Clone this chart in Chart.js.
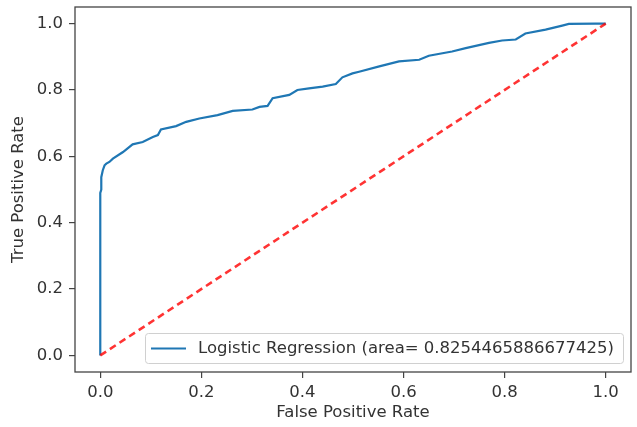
<!DOCTYPE html>
<html>
<head>
<meta charset="utf-8">
<title>ROC curve</title>
<script src="https://cdn.jsdelivr.net/npm/chart.js@4/dist/chart.umd.min.js"></script>
<style>
    html, body { margin: 0; padding: 0; background: #fff; }
    #wrap { width: 637px; height: 427px; }
</style>
</head>
<body>
<div id="wrap"><canvas id="roc" width="637" height="427"></canvas></div>
<script>
// ---- data ----
const fpr = [0, 0, 0.002, 0.002, 0.005, 0.0085, 0.012, 0.018, 0.025, 0.045,
    0.064, 0.084, 0.104, 0.114, 0.12, 0.15, 0.17, 0.196, 0.232, 0.262,
    0.301, 0.315, 0.331, 0.341, 0.374, 0.39, 0.413, 0.44, 0.466, 0.479,
    0.499, 0.512, 0.552, 0.591, 0.631, 0.65, 0.696, 0.723, 0.769, 0.795,
    0.822, 0.841, 0.881, 0.914, 0.927, 0.98, 1.0];
const tpr = [0, 0.49, 0.5, 0.537, 0.558, 0.573, 0.578, 0.583, 0.593, 0.613,
    0.636, 0.643, 0.658, 0.664, 0.681, 0.691, 0.704, 0.714, 0.724, 0.737,
    0.741, 0.749, 0.752, 0.775, 0.785, 0.8, 0.805, 0.81, 0.818, 0.838,
    0.85, 0.855, 0.871, 0.886, 0.891, 0.903, 0.916, 0.926, 0.942, 0.949,
    0.952, 0.97, 0.982, 0.994, 0.999, 1.0, 1.0];
const chanceX = [0, 1];
const chanceY = [0, 1];
const xTicks = [0, 0.2, 0.4, 0.6, 0.8, 1.0];
const yTicks = [0, 0.2, 0.4, 0.6, 0.8, 1.0];
const rocLabel = 'Logistic Regression (area= 0.8254465886677425)';

const FONT = { family: 'DejaVu Sans', size: 16.5 };
const INK = '#333';
const FRAME = '#444';

// full box round the plot, like matplotlib spines
const framePlugin = {
    id: 'frame',
    afterDatasetsDraw(chart) {
        const { ctx, chartArea: a } = chart;
        ctx.save();
        ctx.strokeStyle = FRAME;
        ctx.lineWidth = 1.3;
        ctx.strokeRect(a.left, a.top, a.right - a.left, a.bottom - a.top);
        ctx.restore();
    }
};

// legend box in the lower right corner
const boxLegend = {
    id: 'boxLegend',
    afterDraw(chart) {
        const { ctx, chartArea: a } = chart;
        const ds = chart.data.datasets[0];
        const x = 145, y = 333, w = a.right - 8 - x, h = 30;
        ctx.save();
        ctx.fillStyle = 'rgba(255,255,255,0.85)';
        ctx.strokeStyle = '#d0d0d0';
        ctx.lineWidth = 1;
        ctx.beginPath();
        ctx.roundRect(x + 0.5, y + 0.5, w, h, 3);
        ctx.fill();
        ctx.stroke();
        ctx.strokeStyle = ds.borderColor;
        ctx.lineWidth = 2;
        ctx.beginPath();
        ctx.moveTo(x + 6, y + h / 2 + 0.5);
        ctx.lineTo(x + 41, y + h / 2 + 0.5);
        ctx.stroke();
        ctx.fillStyle = INK;
        ctx.font = FONT.size + 'px "' + FONT.family + '"';
        ctx.textBaseline = 'middle';
        ctx.fillText(ds.label, x + 53, y + h / 2 + 1);
        ctx.restore();
    }
};

function axisTicks(values) {
    return function (scale) {
        scale.ticks = values.map(v => ({ value: v }));
    };
}

new Chart(document.getElementById('roc'), {
    type: 'scatter',
    data: {
        datasets: [
            {
                label: rocLabel,
                data: fpr.map((x, i) => ({ x, y: tpr[i] })),
                showLine: true,
                borderColor: '#1f77b4',
                borderWidth: 2.2,
                pointRadius: 0,
                tension: 0,
                order: 1
            },
            {
                label: 'chance',
                data: chanceX.map((x, i) => ({ x, y: chanceY[i] })),
                showLine: true,
                borderColor: 'rgba(255,0,0,0.8)',
                borderWidth: 2.6,
                borderDash: [7, 4.5],
                pointRadius: 0,
                order: 0
            }
        ]
    },
    options: {
        responsive: false,
        animation: false,
        layout: { padding: { top: 7, right: 6, left: 0, bottom: 0 } },
        plugins: {
            legend: { display: false },
            tooltip: { enabled: false }
        },
        scales: {
            x: {
                type: 'linear',
                min: -0.05,
                max: 1.05,
                afterBuildTicks: axisTicks(xTicks),
                afterFit: (s) => { s.height = 55; s.paddingLeft = 0; s.paddingRight = 0; },
                grid: { drawOnChartArea: false, tickLength: 6, color: FRAME, lineWidth: 1.2 },
                border: { display: false },
                ticks: { color: INK, font: FONT, padding: 5, maxRotation: 0, callback: v => v.toFixed(1) },
                title: { display: true, text: 'False Positive Rate', color: INK, font: FONT, padding: { top: 0, bottom: 4 } }
            },
            y: {
                type: 'linear',
                min: -0.05,
                max: 1.05,
                afterBuildTicks: axisTicks(yTicks),
                afterFit: (s) => { s.width = 75; s.paddingTop = 0; s.paddingBottom = 0; },
                grid: { drawOnChartArea: false, tickLength: 6, color: FRAME, lineWidth: 1.2 },
                border: { display: false },
                ticks: { color: INK, font: FONT, padding: 6, callback: v => v.toFixed(1) },
                title: { display: true, text: 'True Positive Rate', color: INK, font: FONT, padding: { top: 9, bottom: 0 } }
            }
        }
    },
    plugins: [framePlugin, boxLegend]
});
</script>
</body>
</html>
